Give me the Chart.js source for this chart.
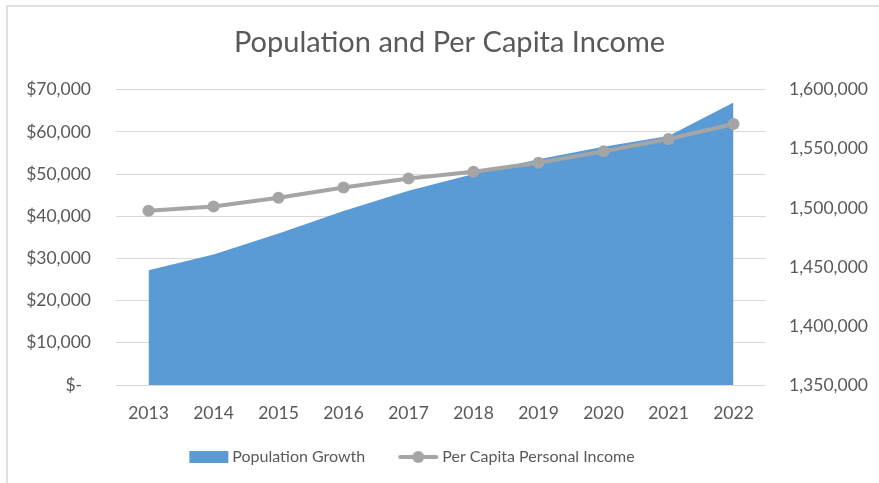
<!DOCTYPE html>
<html>
<head>
<meta charset="utf-8">
<script src="https://cdn.jsdelivr.net/npm/chart.js@4.4.0/dist/chart.umd.min.js"></script>
<style>
    html, body { margin: 0; padding: 0; background: #ffffff; }
    #wrap { position: relative; width: 879px; height: 483px; overflow: hidden; }
    #frame { position: absolute; left: 6px; top: 5px; right: -10px; bottom: -10px;
             border-left: 2px solid #e0e0e0; border-top: 2px solid #e0e0e0; }
    canvas { position: absolute; left: 0; top: 0; }
</style>
</head>
<body>
<div id="wrap">
    <div id="frame"></div>
    <canvas id="popChart" width="879" height="483"></canvas>
</div>
<script>
// Population (right axis) and per capita income (left axis), 2013-2022

const years = ['2013', '2014', '2015', '2016', '2017', '2018', '2019', '2020', '2021', '2022'];
const populationGrowth = [1447100, 1460600, 1478400, 1497300, 1514500, 1528600, 1541100, 1551700, 1560800, 1589300];
const perCapitaIncome = [41300, 42350, 44400, 46850, 48950, 50550, 52700, 55400, 58350, 61900];

const incomeTicks = [0, 10000, 20000, 30000, 40000, 50000, 60000, 70000];
const populationTicks = [1350000, 1400000, 1450000, 1500000, 1550000, 1600000];

const TEXT_COLOR = '#595959';
const GRID_COLOR = '#d9d9d9';
const AREA_COLOR = '#5b9bd5';
const LINE_COLOR = '#a5a5a5';
const FONT = 'Lato, "Open Sans", sans-serif';
const TICK_SIZE = 17.5;

// legend icons: drawn on the right part of a wider canvas so the
// gap to the label text stays small like in Excel
function makeAreaIcon() {
    const c = document.createElement('canvas');
    c.width = 64;
    c.height = 12;
    const g = c.getContext('2d');
    g.fillStyle = AREA_COLOR;
    g.fillRect(24, 0, 39, 12);
    return c;
}

function makeLineIcon() {
    const c = document.createElement('canvas');
    c.width = 64;
    c.height = 14;
    const g = c.getContext('2d');
    g.strokeStyle = LINE_COLOR;
    g.lineWidth = 4;
    g.lineCap = 'round';
    g.beginPath();
    g.moveTo(25, 7);
    g.lineTo(61, 7);
    g.stroke();
    g.fillStyle = LINE_COLOR;
    g.beginPath();
    g.arc(43, 7, 6, 0, Math.PI * 2);
    g.fill();
    return c;
}

const areaIcon = makeAreaIcon();
const lineIcon = makeLineIcon();

function formatIncome(value) {
    if (value === 0) return '$-  ';
    return '$' + value.toLocaleString('en-US');
}

// Excel centres the legend under the plot, not the whole canvas
const legendShift = {
    id: 'legendShift',
    afterLayout(chart) {
        if (!chart.legend) return;
        chart.legend.left -= 47;
        chart.legend.right -= 47;
    }
};

const ctx = document.getElementById('popChart');

new Chart(ctx.getContext('2d'), {
    type: 'line',
    data: {
        labels: years,
        datasets: [
            {
                label: 'Population Growth',
                data: populationGrowth,
                yAxisID: 'yPop',
                backgroundColor: AREA_COLOR,
                borderColor: AREA_COLOR,
                borderWidth: 0,
                fill: 'start',
                pointRadius: 0,
                tension: 0,
                order: 2
            },
            {
                label: 'Per Capita Personal Income',
                data: perCapitaIncome,
                yAxisID: 'yIncome',
                borderColor: LINE_COLOR,
                backgroundColor: LINE_COLOR,
                borderWidth: 4,
                fill: false,
                tension: 0,
                pointRadius: 6,
                pointStyle: 'circle',
                pointBackgroundColor: LINE_COLOR,
                pointBorderColor: LINE_COLOR,
                pointBorderWidth: 0,
                order: 1
            }
        ]
    },
    options: {
        responsive: false,
        animation: false,
        layout: {
            padding: { left: 20, right: 0, top: 0, bottom: 8 }
        },
        plugins: {
            title: {
                display: true,
                text: 'Population and Per Capita Income',
                color: TEXT_COLOR,
                font: { family: FONT, size: 29, weight: 'normal' },
                padding: { top: 25, bottom: 30 }
            },
            legend: {
                position: 'bottom',
                labels: {
                    color: TEXT_COLOR,
                    font: { family: FONT, size: 16 },
                    usePointStyle: true,
                    pointStyleWidth: 54,
                    padding: 15,
                    sort: (a, b) => a.datasetIndex - b.datasetIndex,
                    generateLabels: function(chart) {
                        const items = Chart.defaults.plugins.legend.labels.generateLabels(chart);
                        items.forEach(item => {
                            item.pointStyle = item.datasetIndex === 0 ? areaIcon : lineIcon;
                        });
                        return items;
                    }
                }
            },
            tooltip: { enabled: false }
        },
        scales: {
            x: {
                offset: true,
                grid: { display: false },
                border: { display: false },
                ticks: {
                    color: TEXT_COLOR,
                    font: { family: FONT, size: TICK_SIZE },
                    padding: 10,
                    maxRotation: 0
                }
            },
            yIncome: {
                position: 'left',
                min: 0,
                max: 70000,
                afterBuildTicks: function(scale) {
                    scale.ticks = incomeTicks.map(v => ({ value: v }));
                },
                afterFit: function(scale) {
                    scale.width = 96;
                },
                grid: { color: GRID_COLOR, lineWidth: 1, drawTicks: false },
                border: { display: false },
                ticks: {
                    color: TEXT_COLOR,
                    font: { family: FONT, size: TICK_SIZE },
                    padding: 25,
                    callback: formatIncome
                }
            },
            yPop: {
                position: 'right',
                min: 1350000,
                max: 1600000,
                afterBuildTicks: function(scale) {
                    scale.ticks = populationTicks.map(v => ({ value: v }));
                },
                afterFit: function(scale) {
                    scale.width = 113;
                },
                grid: { display: false, drawTicks: false },
                border: { display: false },
                ticks: {
                    color: TEXT_COLOR,
                    font: { family: FONT, size: TICK_SIZE },
                    padding: 23,
                    callback: function(value) {
                        return value.toLocaleString('en-US');
                    }
                }
            }
        }
    },
    plugins: [legendShift]
});
</script>
</body>
</html>
